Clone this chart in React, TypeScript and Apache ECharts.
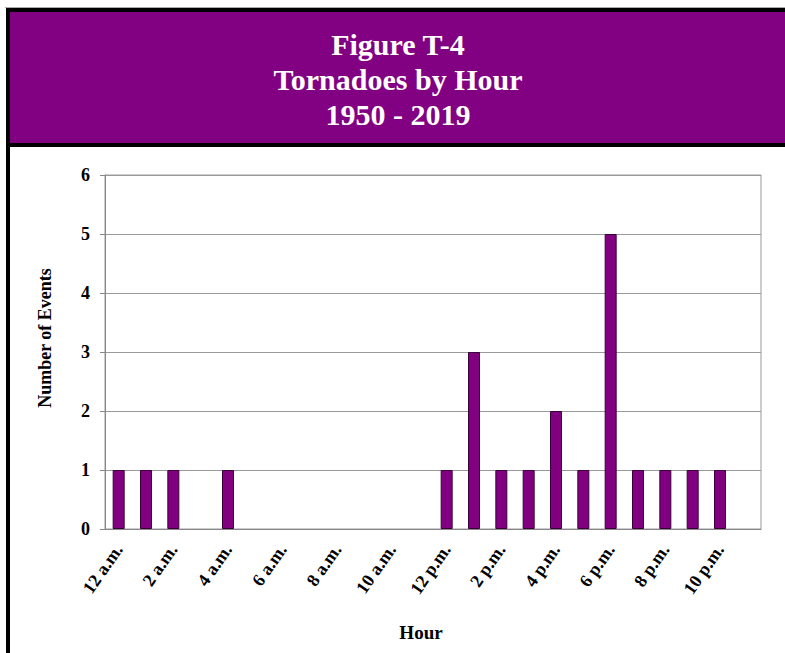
import React, { useEffect, useRef } from "react";
import * as echarts from "echarts";

const hourLabels = [
  "12 a.m.", "1 a.m.", "2 a.m.", "3 a.m.", "4 a.m.", "5 a.m.",
  "6 a.m.", "7 a.m.", "8 a.m.", "9 a.m.", "10 a.m.", "11 a.m.",
  "12 p.m.", "1 p.m.", "2 p.m.", "3 p.m.", "4 p.m.", "5 p.m.",
  "6 p.m.", "7 p.m.", "8 p.m.", "9 p.m.", "10 p.m.", "11 p.m.",
];
const eventCounts = [1, 1, 1, 0, 1, 0, 0, 0, 0, 0, 0, 0, 1, 3, 1, 1, 2, 1, 5, 1, 1, 1, 1, 0];
const titleLines = ["Figure T-4", "Tornadoes by Hour", "1950 - 2019"];
const yAxisTitle = "Number of Events";
const xAxisTitle = "Hour";

const SERIF = "'Liberation Serif', 'Times New Roman', serif";

export default function App() {
  const ref = useRef<HTMLDivElement>(null);
  useEffect(() => {
    if (!ref.current) return;
    const chart = echarts.init(ref.current, null, { renderer: "svg" });
    chart.setOption({
      animation: false,
      backgroundColor: "#ffffff",
      graphic: [
        { type: "rect", shape: { x: 5, y: 7, width: 800, height: 1 }, style: { fill: "#aaaaaa" }, silent: true },
        { type: "rect", shape: { x: 6, y: 8, width: 800, height: 4 }, style: { fill: "#000000" }, silent: true },
        { type: "rect", shape: { x: 6, y: 8, width: 4, height: 660 }, style: { fill: "#000000" }, silent: true },
        { type: "rect", shape: { x: 10, y: 12, width: 790, height: 131 }, style: { fill: "#820082" }, silent: true },
        { type: "rect", shape: { x: 6, y: 143, width: 800, height: 4 }, style: { fill: "#000000" }, silent: true },
        {
          type: "text",
          x: 398,
          y: 27,
          style: {
            text: titleLines.join("\n"),
            fill: "#ffffff",
            font: `bold 30px ${SERIF}`,
            align: "center",
            verticalAlign: "top",
            lineHeight: 35,
          },
          silent: true,
        },
        {
          type: "text",
          x: 45,
          y: 338,
          rotation: Math.PI / 2,
          style: {
            text: yAxisTitle,
            fill: "#000000",
            font: `bold 18px ${SERIF}`,
            align: "center",
            verticalAlign: "middle",
          },
          silent: true,
        },
        {
          type: "text",
          x: 421,
          y: 632,
          style: {
            text: xAxisTitle,
            fill: "#000000",
            font: `bold 19px ${SERIF}`,
            align: "center",
            verticalAlign: "middle",
          },
          silent: true,
        },
      ],
      grid: {
        left: 105,
        right: 24,
        top: 175,
        bottom: 124,
        show: true,
        borderColor: "#999999",
        borderWidth: 1,
      },
      xAxis: {
        type: "category",
        data: hourLabels,
        boundaryGap: true,
        axisLine: { lineStyle: { color: "#888888" } },
        axisTick: { alignWithLabel: true, interval: 0, length: 4, lineStyle: { color: "#888888" } },
        axisLabel: {
          interval: 1,
          rotate: 55,
          margin: 17,
          color: "#000000",
          fontFamily: SERIF,
          fontWeight: "bold",
          fontSize: 18,
        },
      },
      yAxis: {
        type: "value",
        min: 0,
        max: 6,
        interval: 1,
        axisLine: { show: true, lineStyle: { color: "#888888" } },
        axisTick: { show: true, length: 5, lineStyle: { color: "#888888" } },
        splitLine: { lineStyle: { color: "#999999", width: 1 } },
        axisLabel: {
          margin: 15,
          color: "#000000",
          fontFamily: SERIF,
          fontWeight: "bold",
          fontSize: 18,
        },
      },
      series: [
        {
          type: "bar",
          data: eventCounts.map((v) => (v === 0 ? "-" : v)),
          barWidth: 12,
          itemStyle: { color: "#800080", borderColor: "#3a003a", borderWidth: 1 },
        },
      ],
    });
    return () => chart.dispose();
  }, []);
  return (
    <div
      ref={ref}
      style={{ position: "fixed", left: 0, top: 0, width: 785, height: 653 }}
    />
  );
}
